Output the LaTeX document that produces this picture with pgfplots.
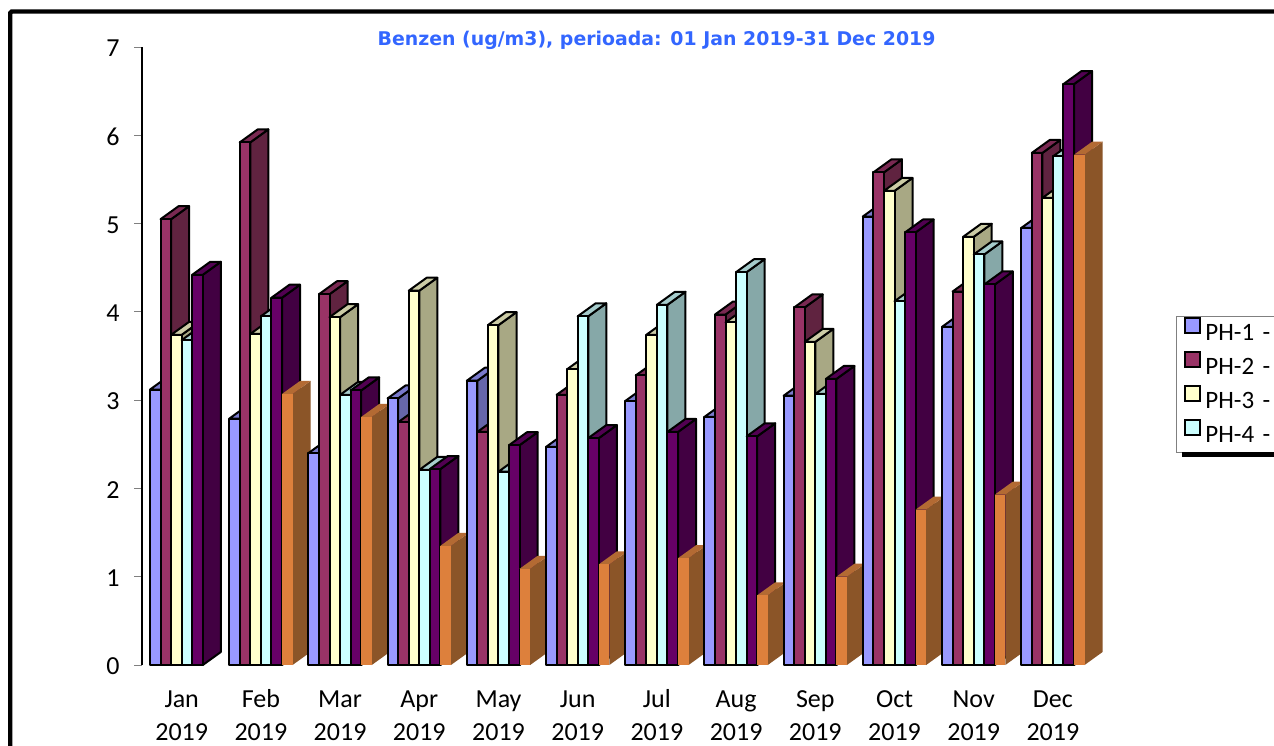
\documentclass[border=0pt]{standalone}
\usepackage{fontspec}
\setmainfont{Carlito}
\newfontfamily\titlefont{DejaVu Sans}
\usepackage{pgfplots}
\usepackage{pgfplotstable}
\pgfplotsset{compat=1.18}

% front, side, top shade per series
\definecolor{c1f}{HTML}{9999FF}\definecolor{c1s}{HTML}{6666AA}\definecolor{c1t}{HTML}{7A7ACC}
\definecolor{c2f}{HTML}{993366}\definecolor{c2s}{HTML}{602340}\definecolor{c2t}{HTML}{7A2952}
\definecolor{c3f}{HTML}{FFFFCC}\definecolor{c3s}{HTML}{A8A884}\definecolor{c3t}{HTML}{CCCCA6}
\definecolor{c4f}{HTML}{CCFFFF}\definecolor{c4s}{HTML}{86A8A8}\definecolor{c4t}{HTML}{A6CCCC}
\definecolor{c5f}{HTML}{660066}\definecolor{c5s}{HTML}{420042}\definecolor{c5t}{HTML}{520052}
\definecolor{c6f}{HTML}{DD803C}\definecolor{c6s}{HTML}{8B5528}\definecolor{c6t}{HTML}{B36A33}
\definecolor{titleblue}{HTML}{3366FF}

\tikzset{
  edge1/.style={draw=black},edge2/.style={draw=black},edge3/.style={draw=black},
  edge4/.style={draw=black},edge5/.style={draw=black},edge6/.style={draw=none},
}

\pgfplotstableread{
month PH1 PH2 PH3 PH4 PH5 PH6
Jan 3.12 5.05 3.74 3.68 4.42 0
Feb 2.79 5.92 3.75 3.95 4.16 3.07
Mar 2.40 4.20 3.94 3.06 3.11 2.81
Apr 3.02 2.75 4.24 2.21 2.22 1.35
May 3.22 2.64 3.85 2.19 2.49 1.09
Jun 2.47 3.06 3.35 3.95 2.57 1.14
Jul 2.99 3.28 3.74 4.08 2.64 1.21
Aug 2.81 3.97 3.88 4.45 2.59 0.79
Sep 3.05 4.05 3.66 3.07 3.24 1.00
Oct 5.08 5.58 5.37 4.12 4.90 1.76
Nov 3.83 4.23 4.85 4.65 4.31 1.93
Dec 4.95 5.80 5.29 5.76 6.58 5.78
}\benzen

\def\barw{0.1333}
\def\depx{0.2273}
\def\depy{0.1472}

\begin{document}
\begin{tikzpicture}[x=1pt,y=1pt]
\path[use as bounding box] (0,0) rectangle (1274,745);
\clip (0,0) rectangle (1274,745);
% outer chart frame, cropped on the right and at the bottom
\draw[line width=4.4pt,rounded corners=1.5pt] (10.2,-10) -- (10.2,733.5) -- (1290,733.5);
\begin{axis}[
  at={(142pt,80pt)},anchor=south west,
  scale only axis,width=960pt,height=618pt,
  xmin=-0.5013,xmax=11.62,ymin=0,ymax=7,
  clip=false,
  axis y line=left,axis x line=bottom,
  x axis line style={draw=none},
  y axis line style={-,line width=1.8pt,black},
  xtick={0,...,11},
  xticklabels={{\strut Jan\\\strut 2019},{\strut Feb\\\strut 2019},{\strut Mar\\\strut 2019},
    {\strut Apr\\\strut 2019},{\strut May\\\strut 2019},{\strut Jun\\\strut 2019},
    {\strut Jul\\\strut 2019},{\strut Aug\\\strut 2019},{\strut Sep\\\strut 2019},
    {\strut Oct\\\strut 2019},{\strut Nov\\\strut 2019},{\strut Dec\\\strut 2019}},
  xticklabel style={align=center,font=\fontsize{26}{32.5}\selectfont,yshift=-8.3pt},
  x tick style={draw=none},
  ytick={0,...,7},
  yticklabel style={font=\fontsize{26}{30}\selectfont,xshift=-11pt,yshift=-1.5pt},
  /pgf/number format/assume math mode=true,
  y tick style={gray,line width=1pt},
  major tick length=8pt,
  tick align=outside,
  title={\titlefont\bfseries Benzen (ug/m3), perioada: 01 Jan 2019-31 Dec 2019},
  title style={at={(0.536,1.0146)},anchor=center,yshift=-8pt,font=\fontsize{18.9}{24}\selectfont,text=titleblue,inner sep=0pt},
  legend style={at={(1.0771,0.5647)},anchor=north west,draw=gray,line width=0.8pt,
    font=\fontsize{25}{30}\selectfont,inner xsep=8pt,inner ysep=0pt,row sep=0pt,
    nodes={text height=21pt,text depth=7pt,inner ysep=3pt,inner xsep=4pt,text width=130pt,align=left}},
  legend cell align=left,
  legend image code/.code={\draw[line width=2pt,#1] (0pt,0.5pt) rectangle (15pt,15.5pt);},
]
\pgfplotsforeachungrouped \row in {0,...,11}{%
  \pgfplotsforeachungrouped \col in {1,...,6}{%
    \pgfplotstablegetelem{\row}{PH\col}\of\benzen
    \edef\val{\pgfplotsretval}%
    \ifdim\val pt>0pt
      \pgfmathsetmacro\xl{\row-0.4+(\col-1)*\barw}%
      \pgfmathsetmacro\xr{\xl+\barw}%
      \pgfmathsetmacro\xbl{\xl+\depx}%
      \pgfmathsetmacro\xbr{\xr+\depx}%
      \pgfmathsetmacro\yb{\val+\depy}%
      \edef\drawit{%
        \noexpand\addplot[forget plot,edge\col,line width=2pt,line join=round,fill=c\col s]
          coordinates {(\xr,0) (\xbr,\depy) (\xbr,\yb) (\xr,\val)} -- cycle;
        \noexpand\addplot[forget plot,edge\col,line width=2pt,line join=round,fill=c\col t]
          coordinates {(\xl,\val) (\xbl,\yb) (\xbr,\yb) (\xr,\val)} -- cycle;
        \noexpand\addplot[forget plot,edge\col,line width=2pt,line join=round,fill=c\col f]
          coordinates {(\xl,0) (\xr,0) (\xr,\val) (\xl,\val)} -- cycle;
      }\drawit
    \fi
  }%
}
\addlegendimage{fill=c1f,draw=black}\addlegendentry{PH-1 -}
\addlegendimage{fill=c2f,draw=black}\addlegendentry{PH-2 -}
\addlegendimage{fill=c3f,draw=black}\addlegendentry{PH-3 -}
\addlegendimage{fill=c4f,draw=black}\addlegendentry{PH-4 -}
\end{axis}
% legend drop shadow
\fill[black] (1182,288) rectangle (1290,293);
\end{tikzpicture}
\end{document}
